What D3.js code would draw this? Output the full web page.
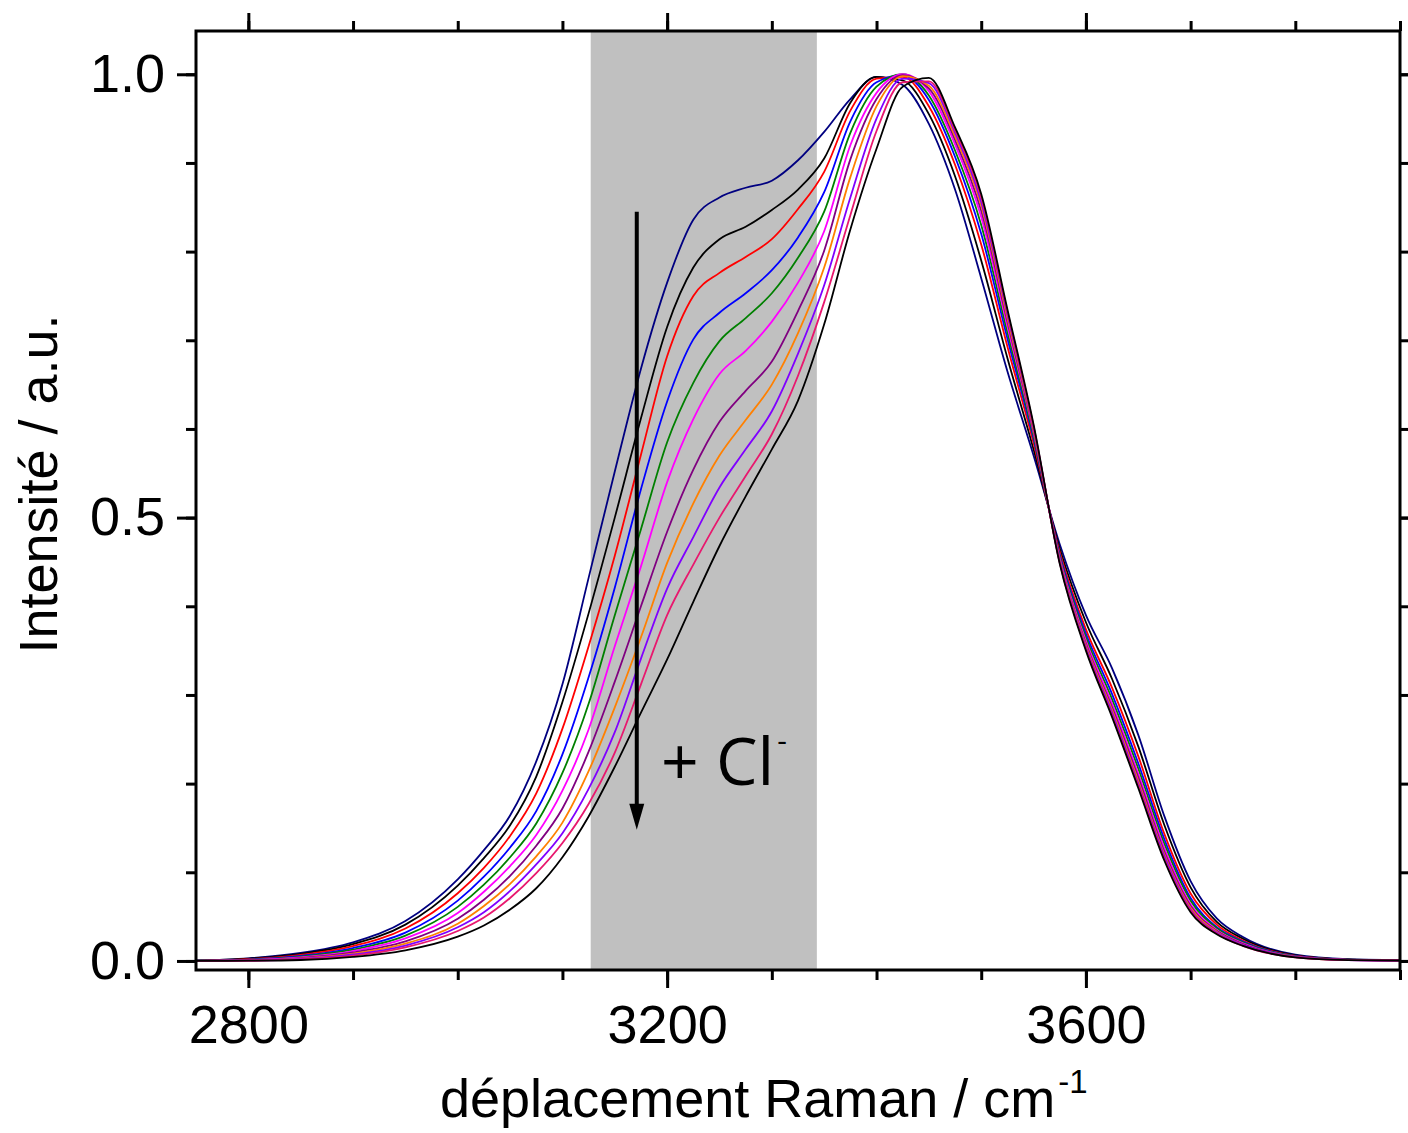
<!DOCTYPE html>
<html><head><meta charset="utf-8">
<script src="https://cdn.jsdelivr.net/npm/d3@7"></script>
<style>html,body{margin:0;padding:0;background:#fff;} svg{display:block;}</style>
</head><body>
<svg id="chart" width="1408" height="1133"></svg>
<script>
// ---- data ----
const wavenumber = [2750, 2800, 2850, 2900, 2950, 3000, 3025, 3050, 3075, 3100, 3125, 3150, 3175, 3200, 3225, 3250, 3275, 3300, 3325, 3350, 3375, 3400, 3425, 3450, 3475, 3500, 3525, 3550, 3575, 3600, 3625, 3650, 3675, 3700, 3725, 3750, 3800, 3850, 3900];

const intensityNavy    = [0.0005, 0.003, 0.009, 0.021, 0.045, 0.092, 0.125, 0.164, 0.225, 0.312, 0.432, 0.552, 0.668, 0.765, 0.836, 0.861, 0.872, 0.880, 0.903, 0.935, 0.972, 0.997, 0.988, 0.944, 0.870, 0.770, 0.665, 0.570, 0.470, 0.390, 0.330, 0.255, 0.163, 0.090, 0.048, 0.027, 0.007, 0.002, 0.001];
const intensityBlack1  = [0.0004, 0.0026, 0.008, 0.019, 0.041, 0.085, 0.116, 0.153, 0.208, 0.292, 0.392, 0.500, 0.612, 0.715, 0.782, 0.814, 0.828, 0.847, 0.870, 0.905, 0.968, 0.997, 0.993, 0.955, 0.885, 0.790, 0.680, 0.577, 0.465, 0.382, 0.318, 0.242, 0.153, 0.083, 0.044, 0.025, 0.0064, 0.0018, 0.0009];
const intensityRed     = [0.0004, 0.002, 0.0069, 0.0168, 0.0366, 0.0764, 0.105, 0.141, 0.189, 0.262, 0.355, 0.457, 0.571, 0.682, 0.750, 0.776, 0.794, 0.814, 0.848, 0.890, 0.959, 0.995, 0.997, 0.964, 0.898, 0.808, 0.693, 0.584, 0.461, 0.374, 0.308, 0.231, 0.143, 0.076, 0.041, 0.023, 0.0058, 0.0016, 0.0008];
const intensityBlue    = [0.0003, 0.0016, 0.0058, 0.0146, 0.032, 0.068, 0.095, 0.128, 0.169, 0.233, 0.320, 0.421, 0.532, 0.631, 0.701, 0.731, 0.753, 0.779, 0.816, 0.867, 0.947, 0.991, 0.999, 0.971, 0.907, 0.820, 0.702, 0.589, 0.458, 0.369, 0.301, 0.223, 0.137, 0.071, 0.038, 0.022, 0.0054, 0.0015, 0.0007];
const intensityGreen   = [0.0003, 0.0013, 0.0049, 0.0128, 0.0286, 0.061, 0.086, 0.117, 0.155, 0.212, 0.290, 0.390, 0.487, 0.585, 0.652, 0.699, 0.725, 0.753, 0.793, 0.845, 0.934, 0.986, 1.0, 0.976, 0.914, 0.830, 0.709, 0.592, 0.456, 0.365, 0.295, 0.217, 0.132, 0.068, 0.037, 0.021, 0.0051, 0.0014, 0.0007];
const intensityMagenta = [0.0002, 0.001, 0.0041, 0.0112, 0.0254, 0.054, 0.078, 0.107, 0.142, 0.192, 0.261, 0.355, 0.445, 0.540, 0.611, 0.662, 0.688, 0.721, 0.765, 0.823, 0.920, 0.979, 1.0, 0.981, 0.921, 0.839, 0.716, 0.596, 0.454, 0.361, 0.290, 0.211, 0.127, 0.064, 0.035, 0.020, 0.0048, 0.0013, 0.0006];
const intensityPurple  = [0.0002, 0.0006, 0.0033, 0.0096, 0.022, 0.0475, 0.069, 0.096, 0.130, 0.172, 0.236, 0.315, 0.400, 0.484, 0.554, 0.608, 0.643, 0.676, 0.733, 0.801, 0.904, 0.972, 0.999, 0.984, 0.926, 0.846, 0.721, 0.598, 0.452, 0.358, 0.286, 0.207, 0.123, 0.062, 0.034, 0.019, 0.0046, 0.0012, 0.0006];
const intensityOrange  = [0.0001, 0.0004, 0.0027, 0.0083, 0.0196, 0.042, 0.062, 0.087, 0.118, 0.156, 0.214, 0.286, 0.365, 0.449, 0.516, 0.570, 0.610, 0.650, 0.708, 0.782, 0.884, 0.964, 0.998, 0.987, 0.930, 0.852, 0.725, 0.600, 0.451, 0.356, 0.283, 0.203, 0.120, 0.060, 0.033, 0.018, 0.0044, 0.0011, 0.0006];
const intensityViolet  = [0.0001, 0.0004, 0.0022, 0.0073, 0.0174, 0.038, 0.055, 0.079, 0.109, 0.144, 0.194, 0.258, 0.341, 0.420, 0.478, 0.534, 0.577, 0.620, 0.685, 0.762, 0.861, 0.950, 0.995, 0.990, 0.934, 0.856, 0.729, 0.602, 0.450, 0.354, 0.280, 0.200, 0.118, 0.058, 0.032, 0.018, 0.0043, 0.0011, 0.0005];
const intensityCrimson = [0.0001, 0.0003, 0.0018, 0.006, 0.0154, 0.0338, 0.049, 0.071, 0.099, 0.133, 0.177, 0.235, 0.312, 0.390, 0.447, 0.500, 0.547, 0.594, 0.660, 0.743, 0.841, 0.936, 0.991, 0.992, 0.937, 0.861, 0.732, 0.603, 0.449, 0.352, 0.277, 0.198, 0.115, 0.057, 0.031, 0.017, 0.0041, 0.001, 0.0005];
const intensityBlack2  = [0.0001, 0.0003, 0.0011, 0.0046, 0.012, 0.0274, 0.040, 0.058, 0.082, 0.117, 0.163, 0.219, 0.280, 0.340, 0.405, 0.468, 0.524, 0.577, 0.632, 0.718, 0.825, 0.916, 0.986, 0.996, 0.940, 0.865, 0.735, 0.605, 0.448, 0.350, 0.275, 0.195, 0.113, 0.055, 0.030, 0.017, 0.004, 0.001, 0.0005];

const seriesValues = [intensityNavy, intensityBlack1, intensityRed, intensityBlue, intensityGreen, intensityMagenta, intensityPurple, intensityOrange, intensityViolet, intensityCrimson, intensityBlack2];
const seriesColors = ["#000080", "#000000", "#ff0000", "#0000ff", "#008000", "#ff00ff", "#800080", "#ff8000", "#8000ff", "#e8186e", "#000000"];

const xMajorTicks = [2800, 3200, 3600];
const xMinorTicks = [2800, 2900, 3000, 3100, 3200, 3300, 3400, 3500, 3600, 3700, 3800, 3900];
const yMajorTicks = [0.0, 0.5, 1.0];
const yMinorTicks = [0.0, 0.1, 0.2, 0.3, 0.4, 0.5, 0.6, 0.7, 0.8, 0.9, 1.0];
const xDomain = [2750, 3900];
const yDomain = [-0.0102, 1.0488];
const shadedRange = [3127, 3343];
const arrowX = 3171;
const arrowFrom = 0.845;
const arrowTo = 0.148;
const annotationText = "+ Cl";
const annotationSup = "-";
const xTitle = "déplacement Raman / cm";
const xTitleSup = "-1";
const yTitle = "Intensité / a.u.";

// ---- drawing ----
const L = 196, R = 1400, T = 31, B = 970;
const svg = d3.select("#chart");
const x = d3.scaleLinear().domain(xDomain).range([L, R]);
const y = d3.scaleLinear().domain(yDomain).range([B, T]);

svg.append("rect").attr("width",1408).attr("height",1133).attr("fill","#fff");

svg.append("defs").append("clipPath").attr("id","plotclip")
  .append("rect").attr("x",L).attr("y",T).attr("width",R-L).attr("height",B-T);

// shaded band
svg.append("rect")
  .attr("x", x(shadedRange[0])).attr("y", T)
  .attr("width", x(shadedRange[1]) - x(shadedRange[0])).attr("height", B - T)
  .attr("fill", "#c0c0c0");

// curves
const line = d3.line().x(d => x(d[0])).y(d => y(d[1])).curve(d3.curveMonotoneX);
const g = svg.append("g").attr("clip-path","url(#plotclip)");
seriesValues.forEach((vals, i) => {
  g.append("path")
    .datum(wavenumber.map((w, k) => [w, vals[k]]))
    .attr("d", line)
    .attr("fill","none")
    .attr("stroke", seriesColors[i])
    .attr("stroke-width", 1.8)
    .attr("stroke-linejoin","round");
});

// arrow
const ax = x(arrowX), ay1 = y(arrowFrom), ay2 = y(arrowTo);
const headLen = 26, headHalf = 7.5;
svg.append("line").attr("x1",ax).attr("x2",ax).attr("y1",ay1).attr("y2",ay2 - headLen + 2)
  .attr("stroke","#000").attr("stroke-width",4);
svg.append("path")
  .attr("d", `M${ax-headHalf},${ay2-headLen} L${ax+headHalf},${ay2-headLen} L${ax},${ay2} Z`)
  .attr("fill","#000");

// annotation
const ann = svg.append("text").attr("x", 661).attr("y", 785)
  .attr("font-family","'Open Sans', 'DejaVu Sans', sans-serif").attr("font-size", 66).attr("fill","#000")
  .attr("xml:space","preserve");
ann.append("tspan").text(annotationText);
ann.append("tspan").attr("font-size", 30).attr("dy", -34).attr("dx", 3).text(annotationSup);

// axes
const fontFam = "'Liberation Sans', Arial, sans-serif";
function styleAxis(sel){
  sel.select(".domain").remove();
  sel.selectAll(".tick line").attr("stroke","#000").attr("stroke-width",3);
  sel.selectAll(".tick text").attr("font-family",fontFam).attr("font-size",54).attr("fill","#000");
}
// bottom
svg.append("g").attr("transform",`translate(0,${B})`)
  .call(d3.axisBottom(x).tickValues(xMinorTicks).tickSize(10).tickFormat("")).call(styleAxis);
svg.append("g").attr("transform",`translate(0,${B})`)
  .call(d3.axisBottom(x).tickValues(xMajorTicks).tickSize(18).tickPadding(17).tickFormat(d3.format("d"))).call(styleAxis);
// top
svg.append("g").attr("transform",`translate(0,${T})`)
  .call(d3.axisTop(x).tickValues(xMinorTicks).tickSize(10).tickFormat("")).call(styleAxis);
svg.append("g").attr("transform",`translate(0,${T})`)
  .call(d3.axisTop(x).tickValues(xMajorTicks).tickSize(18).tickFormat("")).call(styleAxis);
// left
svg.append("g").attr("transform",`translate(${L},0)`)
  .call(d3.axisLeft(y).tickValues(yMinorTicks).tickSize(10).tickFormat("")).call(styleAxis);
svg.append("g").attr("transform",`translate(${L},0)`)
  .call(d3.axisLeft(y).tickValues(yMajorTicks).tickSize(19).tickPadding(12).tickFormat(d3.format(".1f"))).call(styleAxis);
// right
svg.append("g").attr("transform",`translate(${R},0)`)
  .call(d3.axisRight(y).tickValues(yMinorTicks).tickSize(10).tickFormat("")).call(styleAxis);
svg.append("g").attr("transform",`translate(${R},0)`)
  .call(d3.axisRight(y).tickValues(yMajorTicks).tickSize(19).tickFormat("")).call(styleAxis);

// frame
svg.append("rect").attr("x",L).attr("y",T).attr("width",R-L).attr("height",B-T)
  .attr("fill","none").attr("stroke","#000").attr("stroke-width",3);

// axis titles
const xt = svg.append("text").attr("x", 440).attr("y", 1117)
  .attr("font-family",fontFam).attr("font-size",54).attr("fill","#000");
xt.append("tspan").text(xTitle);
xt.append("tspan").attr("font-size",33).attr("dy",-24).attr("dx",3).text(xTitleSup);

svg.append("text")
  .attr("transform","translate(57,484) rotate(-90)")
  .attr("text-anchor","middle")
  .attr("font-family",fontFam).attr("font-size",54).attr("fill","#000")
  .text(yTitle);
</script>
</body></html>
